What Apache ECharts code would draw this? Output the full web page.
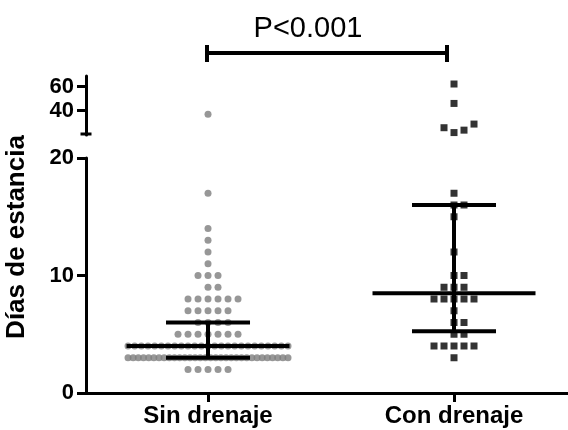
<!DOCTYPE html>
<html><head><meta charset="utf-8">
<script src="https://cdn.jsdelivr.net/npm/echarts@6/dist/echarts.min.js"></script>
<style>html,body{margin:0;padding:0;background:#fff}#c{width:568px;height:430px}</style>
</head><body><div id="c"></div>
<script>
// ---------- data ----------
const categories = ['Sin drenaje', 'Con drenaje'];
const yTicksLower = [0, 10, 20];
const yTicksUpper = [40, 60];
const yAxisName = 'Días de estancia';
const pValueText = 'P<0.001';
// days of stay: distinct values and how many patients had each
const sinLevels = [2, 3, 4, 5, 6, 7, 8, 9, 10, 11, 12, 13, 14, 17, 37];
const sinCounts = [5, 32, 25, 7, 4, 5, 6, 2, 3, 1, 1, 1, 1, 1, 1];
const conLevels = [3, 4, 5, 6, 7, 8, 9, 10, 12, 15, 16, 17, 22, 24, 26, 29, 46, 62];
const conCounts = [1, 5, 2, 2, 1, 5, 3, 2, 1, 1, 2, 1, 1, 1, 1, 1, 1, 1];
// [Q1, median, Q3]
const sinIQR = [3, 4, 6];
const conIQR = [5.25, 8.5, 16];
// axis break
const breakAt = 20;
const upperMax = 68.6;

// ---------- chart ----------
const chart = echarts.init(document.getElementById('c'), null, {renderer: 'canvas'});
const FONT = '"Liberation Sans", Arial, Helvetica, sans-serif';
const X_MIN = -0.496, X_MAX = 1.4634;
const black = '#000';
const axisLineStyle = {color: black, width: 3};
const tickLabel = {color: black, fontFamily: FONT, fontWeight: 'bold', fontSize: 22, margin: 12};

chart.setOption({
  animation: false,
  backgroundColor: '#fff',
  grid: [
    {left: 86, right: 0, top: 158, height: 235},
    {left: 86, right: 0, top: 76, height: 59}
  ],
  xAxis: [
    {gridIndex: 0, type: 'value', min: X_MIN, max: X_MAX,
     axisLine: {onZero: false, lineStyle: axisLineStyle},
     axisTick: {show: true, customValues: [0, 1], length: 9, lineStyle: axisLineStyle},
     axisLabel: {customValues: [0, 1], formatter: v => categories[Math.round(v)],
                 color: black, fontFamily: FONT, fontWeight: 'bold', fontSize: 24, margin: 11},
     splitLine: {show: false}},
    {gridIndex: 1, type: 'value', min: X_MIN, max: X_MAX, show: false, splitLine: {show: false}}
  ],
  yAxis: [
    {gridIndex: 0, type: 'value', min: 0, max: breakAt,
     axisLine: {show: true, onZero: false, lineStyle: axisLineStyle},
     axisTick: {show: true, customValues: yTicksLower, length: 9, lineStyle: axisLineStyle},
     axisLabel: Object.assign({customValues: yTicksLower}, tickLabel),
     splitLine: {show: false}},
    {gridIndex: 1, type: 'value', min: breakAt, max: upperMax,
     axisLine: {show: true, onZero: false, lineStyle: axisLineStyle},
     axisTick: {show: true, customValues: yTicksUpper, length: 9, lineStyle: axisLineStyle},
     axisLabel: Object.assign({customValues: yTicksUpper}, tickLabel),
     splitLine: {show: false}}
  ]
});

const px0 = chart.convertToPixel({xAxisIndex: 0}, 0);
const px1 = chart.convertToPixel({xAxisIndex: 0}, 1);
const pxPerX = px1 - px0;
function yPix(v) {
  return v > breakAt ? chart.convertToPixel({yAxisIndex: 1}, v)
                     : chart.convertToPixel({yAxisIndex: 0}, v);
}

// beeswarm layout in pixel space
const SLOT = 10, MAX_SLOTS = 8, DY = 9;
function swarm(levels, counts, cat) {
  const placed = [], pts = [];
  levels.forEach((v, i) => {
    const n = counts[i], py = yPix(v);
    if (n > 2 * MAX_SLOTS + 1) {
      const sp = 2 * MAX_SLOTS * SLOT / (n - 1);
      for (let k = 0; k < n; k++) {
        pts.push([cat + (-MAX_SLOTS * SLOT + k * sp) / pxPerX, v]);
      }
      for (let s = -MAX_SLOTS; s <= MAX_SLOTS; s++) placed.push({s: s, y: py});
      return;
    }
    for (let k = 0; k < n; k++) {
      for (let j = 0; j < 100; j++) {
        const s = j === 0 ? 0 : (j % 2 === 1 ? (j + 1) / 2 : -(j / 2));
        if (!placed.some(p => p.s === s && Math.abs(p.y - py) < DY)) {
          placed.push({s: s, y: py});
          pts.push([cat + s * SLOT / pxPerX, v]);
          break;
        }
      }
    }
  });
  return pts;
}
const sinPts = swarm(sinLevels, sinCounts, 0);
const conPts = swarm(conLevels, conCounts, 1);
const low = a => a.filter(p => p[1] <= breakAt);
const high = a => a.filter(p => p[1] > breakAt);

const GRAY = '#7d7d7d';
function scatter(data, grid, symbol, color) {
  return {type: 'scatter', xAxisIndex: grid, yAxisIndex: grid, data: data,
          symbol: symbol, symbolSize: 7, itemStyle: {color: color}, silent: true, z: 2};
}
const MED_HALF = 81.5, Q_HALF = 42, LW = 4;
function seg(data) {
  return {type: 'line', xAxisIndex: 0, yAxisIndex: 0, data: data, symbol: 'none',
          lineStyle: {color: black, width: LW, cap: 'butt'}, silent: true, z: 5};
}
function iqrSeries(stats, cat) {
  const m = MED_HALF / pxPerX, q = Q_HALF / pxPerX;
  return [
    seg([[cat - m, stats[1]], [cat + m, stats[1]]]),
    seg([[cat - q, stats[0]], [cat + q, stats[0]]]),
    seg([[cat - q, stats[2]], [cat + q, stats[2]]]),
    seg([[cat, stats[0]], [cat, stats[2]]])
  ];
}

const axisX = chart.convertToPixel({xAxisIndex: 0}, X_MIN);
const capY = chart.convertToPixel({yAxisIndex: 1}, breakAt);
const brY = 53;

chart.setOption({
  series: [
    scatter(low(sinPts), 0, 'circle', GRAY),
    scatter(high(sinPts), 1, 'circle', GRAY),
    scatter(low(conPts), 0, 'rect', black),
    scatter(high(conPts), 1, 'rect', black)
  ].concat(iqrSeries(sinIQR, 0), iqrSeries(conIQR, 1)),
  graphic: [
    {type: 'line', shape: {x1: axisX - 5.5, y1: capY - 1, x2: axisX + 5.5, y2: capY - 1},
     style: {stroke: black, lineWidth: 3}},
    {type: 'line', shape: {x1: px0 - 1, y1: brY, x2: px1 - 7, y2: brY}, style: {stroke: black, lineWidth: 4}},
    {type: 'line', shape: {x1: px0 - 1, y1: brY - 8, x2: px0 - 1, y2: brY + 9}, style: {stroke: black, lineWidth: 4}},
    {type: 'line', shape: {x1: px1 - 7, y1: brY - 8, x2: px1 - 7, y2: brY + 9}, style: {stroke: black, lineWidth: 4}},
    {type: 'text', x: 308, y: 28.5,
     style: {text: pValueText, fill: black, font: '29px ' + FONT, align: 'center', verticalAlign: 'middle',
             textAlign: 'center', textVerticalAlign: 'middle'}},
    {type: 'text', x: 16.5, y: 237, rotation: Math.PI / 2,
     style: {text: yAxisName, fill: black, font: 'bold 26px ' + FONT, align: 'center', verticalAlign: 'middle',
             textAlign: 'center', textVerticalAlign: 'middle'}}
  ]
});
</script>
</body></html>
